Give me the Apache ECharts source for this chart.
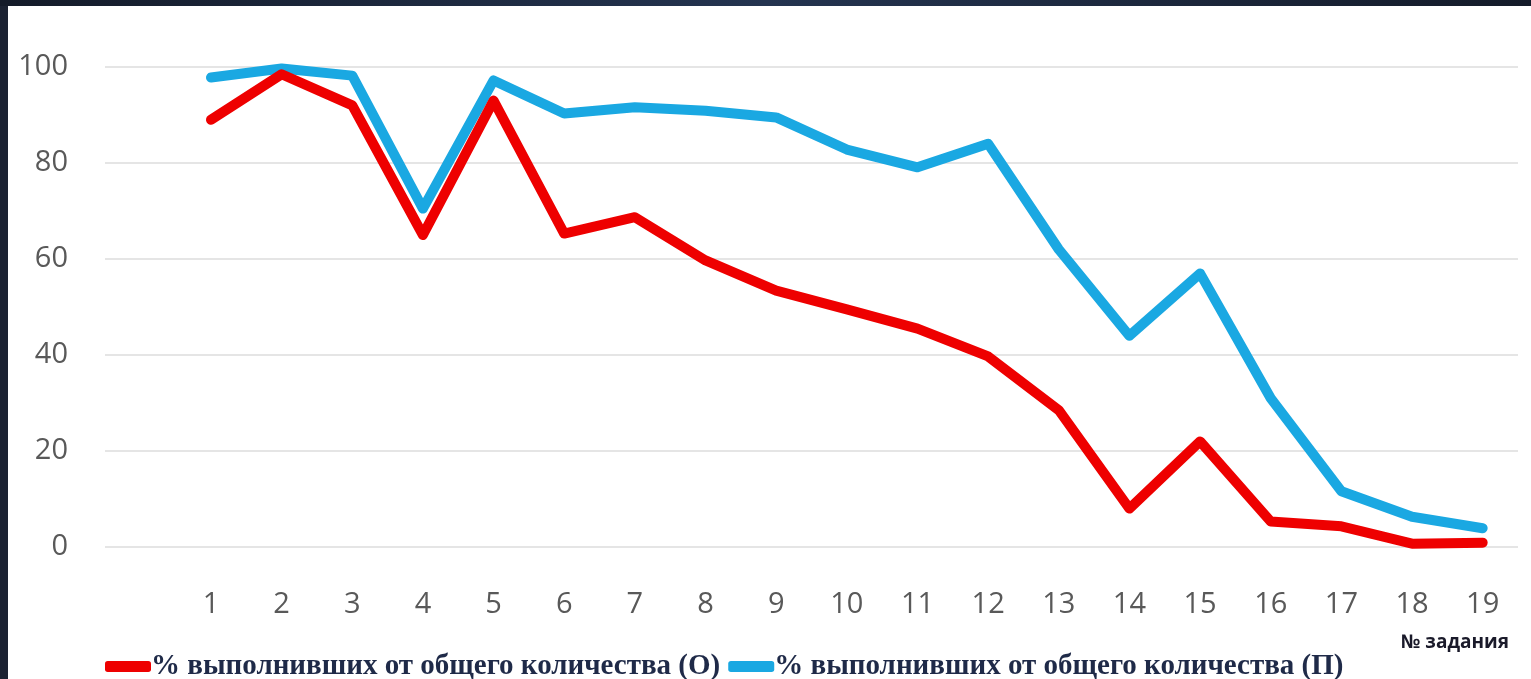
<!DOCTYPE html>
<html>
<head>
<meta charset="utf-8">
<script src="https://cdn.jsdelivr.net/npm/echarts@6/dist/echarts.min.js"></script>
<style>
  html, body { margin: 0; padding: 0; }
  body { width: 1531px; height: 679px; background: #1b2232; position: relative; overflow: hidden; }
  #frameTop { position: absolute; left: 0; top: 0; width: 1531px; height: 6px; background: linear-gradient(90deg, #141b29, #243450 50%, #141b29); }
  #chart { position: absolute; left: 8px; top: 6px; width: 1523px; height: 673px; background: #ffffff; }
</style>
</head>
<body>
<div id="frameTop"></div>
<div id="chart"></div>
<script>
// Номера заданий
const tasks = ['1','2','3','4','5','6','7','8','9','10','11','12','13','14','15','16','17','18','19'];
// % выполнивших от общего количества (О)
const seriesO = [89, 98.5, 92, 65, 93, 65.3, 68.7, 59.7, 53.4, 49.5, 45.5, 39.7, 28.5, 8, 22, 5.3, 4.3, 0.7, 0.9];
// % выполнивших от общего количества (П)
const seriesP = [97.8, 99.7, 98.2, 70.5, 97.2, 90.3, 91.6, 90.9, 89.5, 82.8, 79.1, 84, 62, 44, 57, 31, 11.6, 6.3, 3.9];
const nameO = '% выполнивших от общего количества (О)';
const nameP = '% выполнивших от общего количества (П)';
const yTicks = [0, 20, 40, 60, 80, 100];

// leading empty category (the original axis leaves one empty slot before task 1)
const categories = [''].concat(tasks);
const dataO = [null].concat(seriesO);
const dataP = [null].concat(seriesP);

const chart = echarts.init(document.getElementById('chart'), null, { renderer: 'canvas' });
const labelFont = "'Open Sans', 'Noto Sans', sans-serif";
chart.setOption({
  animation: false,
  backgroundColor: '#ffffff',
  grid: { left: 97, right: 13, top: 61, bottom: 132, containLabel: false },
  xAxis: {
    type: 'category',
    data: categories,
    boundaryGap: true,
    axisLine: { show: false },
    axisTick: { show: false },
    axisLabel: { color: '#595959', fontSize: 29, fontFamily: labelFont, margin: 43, interval: 0 },
    splitLine: { show: false }
  },
  yAxis: {
    type: 'value',
    min: yTicks[0],
    max: yTicks[yTicks.length - 1],
    interval: 20,
    axisLine: { show: false },
    axisTick: { show: false },
    axisLabel: { color: '#595959', fontSize: 29, fontFamily: labelFont, margin: 37 },
    splitLine: { lineStyle: { color: '#dcdcdc', width: 1.5 } }
  },
  legend: {
    top: 641,
    left: 92,
    itemGap: 8,
    itemWidth: 46,
    itemHeight: 11,
    icon: 'roundRect',
    textStyle: {
      fontFamily: "'Liberation Serif', 'DejaVu Serif', serif",
      fontWeight: 'bold',
      fontSize: 29,
      color: '#1f2a48',
      padding: [0, 0, 0, -5]
    },
    data: [
      { name: nameO, itemStyle: { color: '#ee0000' } },
      { name: nameP, itemStyle: { color: '#1aa8e2' } }
    ]
  },
  graphic: [{
    type: 'text',
    right: 22,
    top: 627,
    style: {
      text: '№ задания',
      fill: '#1a1a2a',
      font: "bold 19px 'Open Sans', 'Noto Sans', sans-serif"
    }
  }],
  series: [
    {
      name: nameP,
      type: 'line',
      data: dataP,
      showSymbol: false,
      symbol: 'none',
      lineStyle: { color: '#1aa8e2', width: 10, cap: 'round', join: 'round' },
      itemStyle: { color: '#1aa8e2' },
      z: 2
    },
    {
      name: nameO,
      type: 'line',
      data: dataO,
      showSymbol: false,
      symbol: 'none',
      lineStyle: { color: '#ee0000', width: 10, cap: 'round', join: 'round' },
      itemStyle: { color: '#ee0000' },
      z: 3
    }
  ]
});
</script>
</body>
</html>
